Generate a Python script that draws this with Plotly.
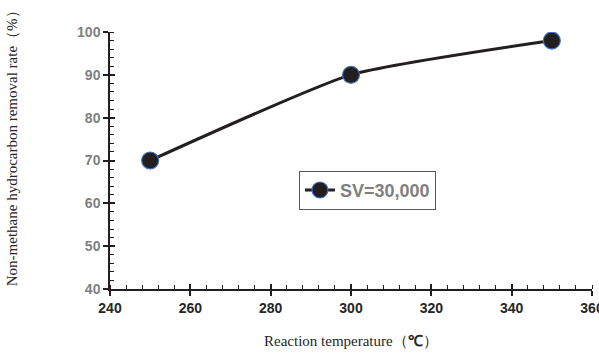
import plotly.graph_objects as go

temperature = [250, 300, 350]
removal_rate = [70, 90, 98]
series_name = "SV=30,000"
x_ticks = [240, 260, 280, 300, 320, 340, 360]
y_ticks = [40, 50, 60, 70, 80, 90, 100]

fig = go.Figure()
fig.add_trace(go.Scatter(
    x=temperature, y=removal_rate, name=series_name,
    mode="lines+markers",
    line=dict(color="#231f20", width=3, shape="spline", smoothing=0.5),
    marker=dict(size=17, color="#231f20", line=dict(color="#4472c4", width=1.2)),
))
# invisible trace for the overlay axes (inner half of crossing ticks)
fig.add_trace(go.Scatter(x=[240], y=[40], xaxis="x2", yaxis="y2",
                         mode="markers", marker=dict(opacity=0),
                         showlegend=False, hoverinfo="skip"))

tickfont_x = dict(family="Liberation Sans", size=14, color="#262626", weight="bold")
tickfont_y = dict(family="Liberation Sans", size=14, color="#7f7f7f", weight="bold")

fig.update_layout(
    width=599, height=354,
    margin=dict(l=110, r=7, t=32, b=65, autoexpand=False),
    plot_bgcolor="white", paper_bgcolor="white",
    showlegend=True,
    legend=dict(x=0.392, y=0.46, xanchor="left", yanchor="top",
                bgcolor="white", bordercolor="#595959", borderwidth=1,
                font=dict(family="Liberation Sans", size=18, color="#7f7f7f", weight="bold"),
                itemwidth=30, tracegroupgap=0),
    xaxis=dict(range=[240, 360], tickvals=x_ticks,
               showgrid=False, zeroline=False,
               showline=True, linecolor="#231f20", linewidth=1.5,
               ticks="outside", ticklen=5, tickwidth=1.5, tickcolor="#231f20",
               minor=dict(dtick=4, ticks="inside", ticklen=4, tickwidth=1, tickcolor="#231f20"),
               tickfont=tickfont_x, ticklabeloverflow="allow", automargin=False),
    yaxis=dict(range=[40, 100], tickvals=y_ticks,
               showgrid=False, zeroline=False,
               showline=True, linecolor="#231f20", linewidth=1.5,
               ticks="outside", ticklen=5, tickwidth=1.5, tickcolor="#231f20",
               minor=dict(dtick=2, ticks="inside", ticklen=4, tickwidth=1, tickcolor="#231f20"),
               tickfont=tickfont_y, automargin=False),
    xaxis2=dict(range=[240, 360], overlaying="x", tickvals=x_ticks,
                showticklabels=False, showgrid=False, zeroline=False,
                ticks="inside", ticklen=5, tickwidth=1.5, tickcolor="#231f20"),
    yaxis2=dict(range=[40, 100], overlaying="y", tickvals=y_ticks,
                showticklabels=False, showgrid=False, zeroline=False,
                ticks="inside", ticklen=5, tickwidth=1.5, tickcolor="#231f20"),
    annotations=[
        dict(text="Reaction temperature（<b><span style='font-family:Liberation Sans'>℃</span></b>）",
             xref="paper", yref="paper", x=0.5, y=-0.2, xanchor="center", yanchor="middle",
             showarrow=False, font=dict(family="Liberation Serif", size=15, color="#262626")),
        dict(text="Non-methane hydrocarbon removal rate（%）",
             xref="paper", yref="paper", x=-0.203, y=0.56, xanchor="center", yanchor="middle",
             textangle=-90, showarrow=False,
             font=dict(family="Liberation Serif", size=15, color="#262626")),
    ],
)

fig.write_html("out.html")
